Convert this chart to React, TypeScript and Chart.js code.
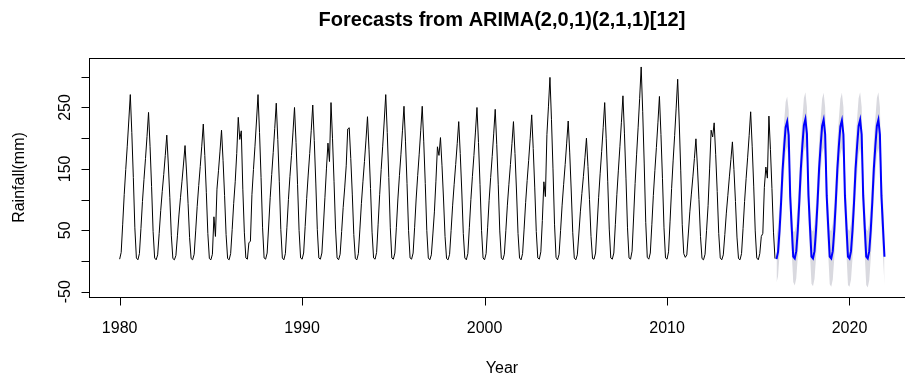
import React, { useEffect, useRef } from "react";
import { Chart, registerables } from "chart.js";

Chart.register(...registerables);

const startYear = 1980;
const forecastStartYear = 2016;

// Monthly rainfall (mm), one row per year, Jan..Dec (1980-2015)
const rain1980 = [3, 14, 60, 108, 149, 187, 228, 271, 209, 136, 54, 5];
const rain1981 = [2, 12, 53, 97, 133, 167, 203, 242, 186, 121, 48, 5];
const rain1982 = [2, 10, 45, 82, 113, 141, 172, 205, 158, 103, 41, 4];
const rain1983 = [2, 9, 41, 75, 103, 130, 158, 188, 145, 94, 38, 4];
const rain1984 = [2, 11, 49, 89, 123, 154, 187, 223, 172, 112, 45, 4];
const rain1985 = [2, 11, 72, 40, 117, 147, 179, 213, 164, 107, 43, 4];
const rain1986 = [2, 12, 51, 94, 129, 175, 234, 198, 212, 117, 47, 5];
const rain1987 = [3, 30, 32, 108, 149, 187, 228, 271, 209, 136, 54, 5];
const rain1988 = [3, 13, 57, 103, 141, 177, 216, 257, 198, 129, 51, 5];
const rain1989 = [2, 12, 55, 100, 138, 172, 210, 250, 193, 125, 50, 5];
const rain1990 = [3, 13, 56, 102, 140, 175, 213, 254, 196, 127, 51, 5];
const rain1991 = [3, 13, 57, 103, 150, 192, 162, 258, 199, 129, 52, 5];
const rain1992 = [2, 11, 48, 87, 119, 155, 215, 217, 167, 109, 43, 4];
const rain1993 = [2, 12, 52, 94, 129, 162, 197, 235, 181, 118, 47, 5];
const rain1994 = [3, 14, 60, 108, 149, 187, 228, 271, 209, 136, 54, 5];
const rain1995 = [3, 13, 55, 101, 139, 174, 212, 252, 194, 126, 50, 5];
const rain1996 = [3, 13, 55, 101, 139, 174, 212, 252, 194, 126, 50, 5];
const rain1997 = [2, 10, 44, 80, 130, 186, 172, 201, 155, 101, 40, 4];
const rain1998 = [2, 11, 50, 91, 125, 157, 191, 227, 175, 114, 45, 5];
const rain1999 = [2, 12, 55, 100, 138, 172, 210, 250, 193, 125, 50, 5];
const rain2000 = [2, 12, 54, 99, 136, 170, 207, 247, 190, 124, 49, 5];
const rain2001 = [2, 11, 50, 91, 125, 157, 191, 227, 175, 114, 45, 5];
const rain2002 = [2, 12, 52, 95, 131, 164, 200, 238, 183, 119, 48, 5];
const rain2003 = [3, 15, 66, 129, 105, 206, 251, 299, 230, 150, 60, 6];
const rain2004 = [2, 11, 50, 91, 125, 157, 192, 228, 176, 114, 46, 5];
const rain2005 = [2, 10, 44, 80, 110, 138, 168, 200, 154, 100, 40, 4];
const rain2006 = [3, 13, 57, 103, 142, 178, 217, 258, 199, 129, 52, 5];
const rain2007 = [3, 13, 59, 108, 148, 186, 226, 269, 207, 135, 54, 5];
const rain2008 = [3, 16, 70, 126, 174, 218, 265, 316, 243, 158, 63, 6];
const rain2009 = [3, 13, 59, 107, 147, 185, 225, 268, 206, 134, 54, 5];
const rain2010 = [3, 15, 65, 118, 163, 204, 249, 296, 228, 148, 59, 12];
const rain2011 = [6, 10, 44, 80, 109, 137, 167, 199, 153, 100, 40, 4];
const rain2012 = [2, 11, 50, 90, 150, 213, 202, 225, 173, 113, 45, 5];
const rain2013 = [2, 10, 43, 78, 107, 137, 165, 194, 149, 97, 39, 4];
const rain2014 = [2, 12, 53, 97, 134, 168, 204, 243, 187, 122, 49, 5];
const rain2015 = [2, 12, 40, 45, 120, 153, 135, 236, 182, 118, 47, 4];

const history = [
  rain1980, rain1981, rain1982, rain1983, rain1984, rain1985, rain1986, rain1987,
  rain1988, rain1989, rain1990, rain1991, rain1992, rain1993, rain1994, rain1995,
  rain1996, rain1997, rain1998, rain1999, rain2000, rain2001, rain2002, rain2003,
  rain2004, rain2005, rain2006, rain2007, rain2008, rain2009, rain2010, rain2011,
  rain2012, rain2013, rain2014, rain2015,
];

// Forecast mean 2016-2021
const fcMean = [
  [3, 15, 50, 95, 148, 185, 218, 227, 205, 105, 55, 7],
  [4, 16, 51, 97, 150, 188, 221, 231, 207, 107, 56, 7],
  [4, 16, 51, 96, 150, 187, 220, 230, 206, 106, 56, 7],
  [4, 16, 51, 96, 149, 187, 219, 229, 206, 106, 56, 7],
  [4, 16, 51, 96, 150, 187, 220, 230, 206, 106, 56, 7],
  [4, 16, 51, 96, 150, 187, 220, 230, 206, 106, 56, 7],
];
// Prediction interval upper bound
const fcUpper = [
  [40, 55, 90, 135, 188, 226, 259, 268, 246, 146, 96, 48],
  [48, 60, 95, 141, 194, 232, 265, 275, 251, 151, 100, 51],
  [48, 60, 95, 140, 194, 231, 264, 274, 250, 150, 100, 51],
  [49, 61, 96, 141, 194, 232, 264, 274, 251, 151, 101, 52],
  [49, 61, 96, 141, 195, 232, 265, 275, 251, 151, 101, 52],
  [49, 61, 96, 141, 195, 232, 265, 275, 251, 151, 101, 52],
];
// Prediction interval lower bound
const fcLower = [
  [-35, -25, 10, 55, 108, 144, 177, 186, 164, 64, 14, -34],
  [-40, -28, 7, 53, 106, 144, 177, 187, 163, 63, 12, -37],
  [-41, -29, 6, 51, 105, 142, 175, 185, 161, 61, 11, -38],
  [-42, -30, 5, 50, 104, 141, 174, 184, 161, 61, 11, -39],
  [-42, -30, 5, 50, 104, 141, 174, 184, 161, 60, 10, -39],
  [-43, -31, 5, 50, 104, 141, 174, 184, 160, 60, 10, -40],
];

const xTicks = [1980, 1990, 2000, 2010, 2020];
const yTicks = [-50, 0, 50, 100, 150, 200, 250, 300];
const yLabelled = [-50, 50, 150, 250];

const titleText = "Forecasts from ARIMA(2,0,1)(2,1,1)[12]";
const xTitle = "Year";
const yTitle = "Rainfall(mm)";

function toPoints(rows: number[][], y0: number) {
  const pts: { x: number; y: number }[] = [];
  rows.forEach((row, i) => row.forEach((v, m) => pts.push({ x: y0 + i + m / 12, y: v })));
  return pts;
}

const FONT = '"Liberation Sans", Arial, sans-serif';

const axesPlugin = {
  id: "rAxes",
  afterDraw(chart: any) {
    const { ctx, chartArea } = chart;
    const { left, right, top, bottom } = chartArea;
    const xs = chart.scales.x;
    const ys = chart.scales.y;
    ctx.save();
    ctx.strokeStyle = "#000";
    ctx.lineWidth = 1;
    ctx.strokeRect(left + 0.5, top + 0.5, right - left, bottom - top);
    // y axis ticks
    ctx.beginPath();
    const yA = Math.round(ys.getPixelForValue(yTicks[0])) + 0.5;
    const yB = Math.round(ys.getPixelForValue(yTicks[yTicks.length - 1])) + 0.5;
    ctx.moveTo(left + 0.5, yA);
    ctx.lineTo(left + 0.5, yB);
    yTicks.forEach((v) => {
      const py = Math.round(ys.getPixelForValue(v)) + 0.5;
      ctx.moveTo(left + 0.5, py);
      ctx.lineTo(left - 7.5, py);
    });
    // x axis ticks
    const xA = Math.round(xs.getPixelForValue(xTicks[0])) + 0.5;
    const xB = Math.round(xs.getPixelForValue(xTicks[xTicks.length - 1])) + 0.5;
    ctx.moveTo(xA, bottom + 0.5);
    ctx.lineTo(xB, bottom + 0.5);
    xTicks.forEach((v) => {
      const px = Math.round(xs.getPixelForValue(v)) + 0.5;
      ctx.moveTo(px, bottom + 0.5);
      ctx.lineTo(px, bottom + 8.5);
    });
    ctx.stroke();

    ctx.fillStyle = "#000";
    ctx.textAlign = "center";
    ctx.textBaseline = "middle";
    ctx.font = `16px ${FONT}`;
    xTicks.forEach((v) => {
      ctx.fillText(String(v), xs.getPixelForValue(v), bottom + 32);
    });
    yLabelled.forEach((v) => {
      ctx.save();
      ctx.translate(left - 23, ys.getPixelForValue(v));
      ctx.rotate(-Math.PI / 2);
      ctx.fillText(String(v), 0, 0);
      ctx.restore();
    });
    ctx.fillText(xTitle, (left + right) / 2, 369);
    ctx.save();
    ctx.translate(20, (top + bottom) / 2);
    ctx.rotate(-Math.PI / 2);
    ctx.fillText(yTitle, 0, 0);
    ctx.restore();
    ctx.font = `bold 20px ${FONT}`;
    ctx.fillText(titleText, (left + right) / 2, 20);
    ctx.restore();
  },
};

export default function App() {
  const ref = useRef<HTMLCanvasElement>(null);
  useEffect(() => {
    if (!ref.current) return;
    const chart = new Chart(ref.current, {
      type: "line",
      data: {
        datasets: [
          {
            data: toPoints(fcMean, forecastStartYear),
            borderColor: "#0000FF",
            borderWidth: 2,
            pointRadius: 0,
            tension: 0,
            fill: false,
          },
          {
            data: toPoints(history, startYear),
            borderColor: "#000000",
            borderWidth: 1,
            pointRadius: 0,
            tension: 0,
            fill: false,
          },
          {
            data: toPoints(fcUpper, forecastStartYear),
            borderColor: "rgba(0,0,0,0)",
            borderWidth: 0,
            backgroundColor: "#D9D9DF",
            pointRadius: 0,
            tension: 0,
            fill: "+1",
          },
          {
            data: toPoints(fcLower, forecastStartYear),
            borderColor: "rgba(0,0,0,0)",
            borderWidth: 0,
            pointRadius: 0,
            tension: 0,
            fill: false,
          },
        ],
      },
      options: {
        animation: false,
        responsive: false,
        devicePixelRatio: 1,
        parsing: false as any,
        normalized: true,
        layout: { padding: { left: 89, right: 10, top: 58, bottom: 84 } },
        plugins: {
          legend: { display: false },
          tooltip: { enabled: false },
          title: { display: false },
        },
        scales: {
          x: { type: "linear", display: false, min: 1978.32, max: 2023.59 },
          y: { type: "linear", display: false, min: -58.6, max: 330.6 },
        },
      },
      plugins: [axesPlugin],
    });
    return () => chart.destroy();
  }, []);
  return (
    <div
      style={{
        position: "absolute",
        left: 0,
        top: 0,
        width: 905,
        height: 381,
        overflow: "hidden",
        background: "#fff",
      }}
    >
      <canvas ref={ref} width={925} height={381} style={{ width: 925, height: 381, display: "block" }} />
    </div>
  );
}
